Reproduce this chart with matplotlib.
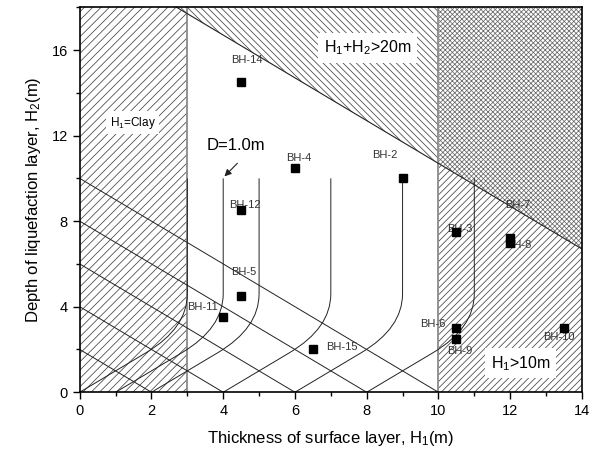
import numpy as np
import matplotlib
matplotlib.use('Agg')
import matplotlib.pyplot as plt
from matplotlib.patches import Polygon, PathPatch
from matplotlib.path import Path
from matplotlib.ticker import MultipleLocator

plt.rcParams['font.family'] = ['Liberation Sans', 'DejaVu Sans']
plt.rcParams['mathtext.default'] = 'regular'
plt.rcParams['hatch.linewidth'] = 0.55

# boreholes: thickness of surface layer H1, depth of liquefaction layer H2
bh_names = ['BH-14', 'BH-4', 'BH-2', 'BH-12', 'BH-5', 'BH-11', 'BH-15',
            'BH-3', 'BH-7', 'BH-8', 'BH-6', 'BH-9', 'BH-10']
bh_h1 = [4.5, 6.0, 9.0, 4.5, 4.5, 4.0, 6.5, 10.5, 12.0, 12.0, 10.5, 10.5, 13.5]
bh_h2 = [14.5, 10.5, 10.0, 8.5, 4.5, 3.5, 2.0, 7.5, 7.2, 7.0, 3.0, 2.5, 3.0]

# region limits
clay_h1 = 3.0
max_h1 = 10.0
limit_line_h1 = [2.7, 14.0]      # H1 + H2 > 20 m boundary
limit_line_h2 = [18.0, 6.7]

# D curves (vertical part position) and sloping guide lines (intercepts)
d_curve_h1 = [3, 4, 5, 7, 9, 11]
d_curve_top = 10.0
guide_intercepts = [2, 4, 6, 8, 10]

# label offsets in points (layout only)
label_offsets = {
    'BH-14': (4, 16), 'BH-4': (3, 7), 'BH-2': (-13, 17), 'BH-12': (3, 4),
    'BH-5': (2, 17), 'BH-11': (-15, 7.5), 'BH-15': (21, 2), 'BH-3': (2.5, 2),
    'BH-7': (5.5, 24), 'BH-8': (6, -1.5), 'BH-6': (-17, 3), 'BH-9': (2.5, -9),
    'BH-10': (-3.5, -6.5),
}

fig = plt.figure(figsize=(5.95, 4.54), dpi=100)
ax = fig.add_axes([0.134, 0.136, 0.844, 0.848])
ax.set_xlim(0, 14)
ax.set_ylim(0, 18)

ymax = 18.0
y_at_10 = np.interp(max_h1, limit_line_h1, limit_line_h2)
y_at_14 = limit_line_h2[1]

# left clay zone
ax.add_patch(Polygon([(0, 0), (clay_h1, 0), (clay_h1, ymax), (0, ymax)],
                     closed=True, facecolor='white', edgecolor='#444444',
                     hatch='////', lw=0, zorder=1))
# H1+H2 > 20 zone
ax.add_patch(Polygon([(limit_line_h1[0], ymax), (max_h1, y_at_10), (max_h1, ymax)],
                     closed=True, facecolor='white', edgecolor='#444444',
                     hatch='\\\\\\\\\\', lw=0, zorder=1))
# H1 > 10 zone
ax.add_patch(Polygon([(max_h1, 0), (14, 0), (14, y_at_14), (max_h1, y_at_10)],
                     closed=True, facecolor='white', edgecolor='#444444',
                     hatch='/////', lw=0, zorder=1))
# overlap zone
ax.add_patch(Polygon([(max_h1, y_at_10), (14, y_at_14), (14, ymax), (max_h1, ymax)],
                     closed=True, facecolor='white', edgecolor='#6a6a6a',
                     hatch='xxxxxxx', lw=0, zorder=1))

ax.axvline(clay_h1, color='#8a8a8a', lw=1.3, zorder=2)
ax.axvline(max_h1, color='#8a8a8a', lw=1.3, zorder=2)
ax.plot(limit_line_h1, limit_line_h2, color='#222222', lw=0.8, zorder=2)

# sloping guide lines
for c in guide_intercepts:
    ax.plot([0, c], [c, 0], color='#222222', lw=0.7, zorder=2)

# D curves: vertical, bend, then slope down to H2 = 0
for x0 in d_curve_h1:
    verts = [(x0, d_curve_top), (x0, 4.6), (x0, 3.0), (x0 - 1.15, 1.85), (x0 - 3, 0)]
    codes = [Path.MOVETO, Path.LINETO, Path.CURVE3, Path.CURVE3, Path.LINETO]
    ax.add_patch(PathPatch(Path(verts, codes), facecolor='none',
                           edgecolor='#222222', lw=0.7, zorder=2))

ax.annotate('', xy=(3.98, 10.0), xytext=(4.45, 10.8),
            arrowprops=dict(arrowstyle='-|>', color='#222222', lw=0.8,
                            mutation_scale=10), zorder=3)
ax.text(4.36, 11.55, 'D=1.0m', fontsize=12, ha='center', va='center', zorder=3)

box = dict(facecolor='white', edgecolor='none', pad=4)
ax.text(1.48, 12.6, 'H$_1$=Clay', fontsize=8.5, ha='center', va='center',
        bbox=dict(facecolor='white', edgecolor='none', pad=2.5), zorder=3)
ax.text(8.03, 16.1, 'H$_1$+H$_2$>20m', fontsize=11.5, ha='center', va='center',
        bbox=box, zorder=3)
ax.text(12.3, 1.35, 'H$_1$>10m', fontsize=11.5, ha='center', va='center',
        bbox=box, zorder=3)

ax.plot(bh_h1, bh_h2, 's', color='black', ms=6, zorder=5)
for name, x, y in zip(bh_names, bh_h1, bh_h2):
    ax.annotate(name, (x, y), xytext=label_offsets[name], textcoords='offset points',
                fontsize=8, color='#333333', ha='center', va='center', zorder=4)

ax.xaxis.set_major_locator(MultipleLocator(2))
ax.xaxis.set_minor_locator(MultipleLocator(1))
ax.yaxis.set_major_locator(MultipleLocator(4))
ax.yaxis.set_minor_locator(MultipleLocator(2))
ax.tick_params(which='both', direction='out', top=False, right=False, labelsize=10.5)
ax.tick_params(which='major', length=5, width=1)
ax.tick_params(which='minor', length=3, width=1)
for s in ax.spines.values():
    s.set_linewidth(1.2)
    s.set_zorder(6)

ax.set_xlabel('Thickness of surface layer, H$_1$(m)', fontsize=12, labelpad=8)
ax.set_ylabel('Depth of liquefaction layer, H$_2$(m)', fontsize=12, labelpad=6)

fig.savefig('out.png', dpi=100)
